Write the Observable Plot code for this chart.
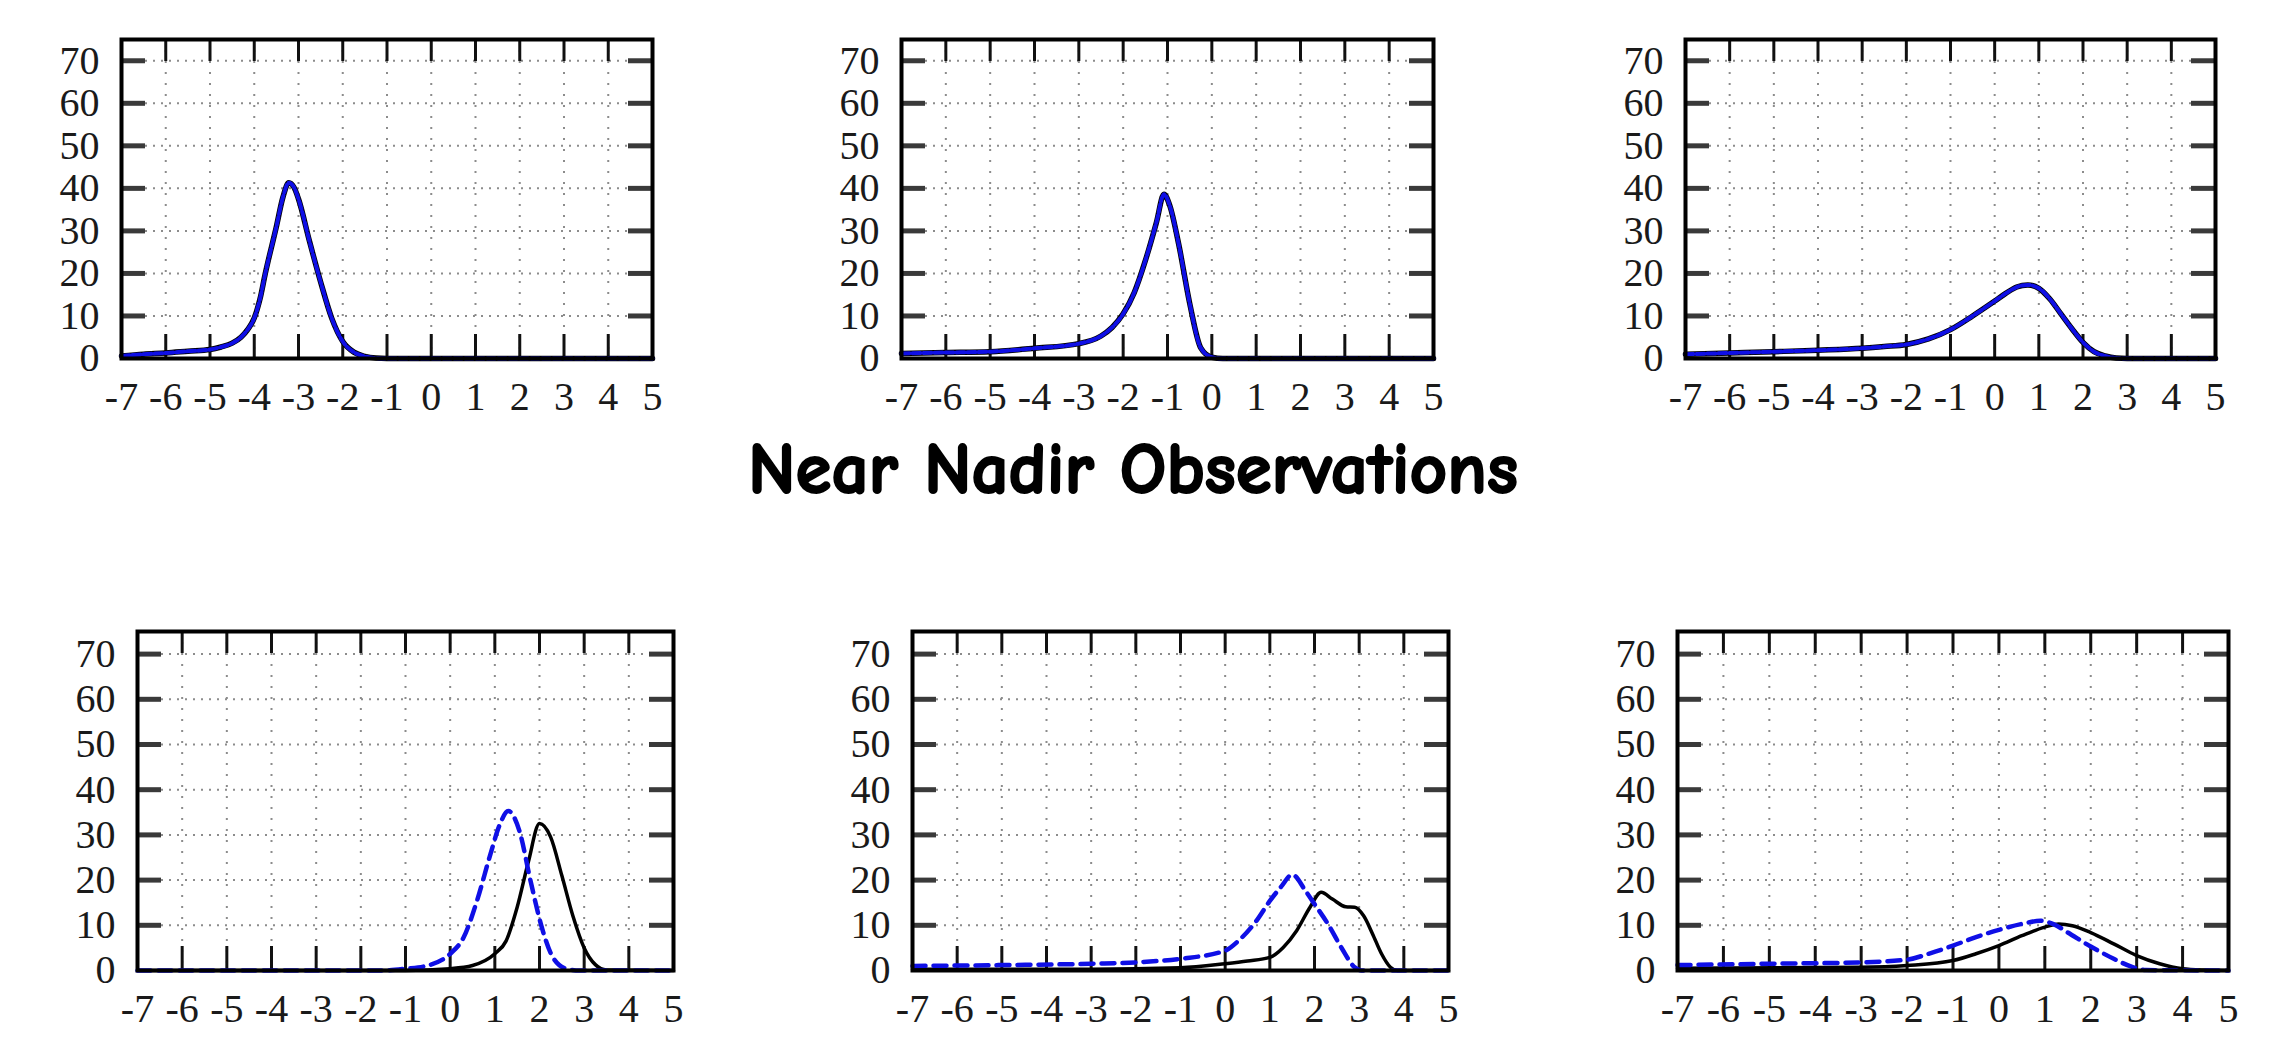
<!DOCTYPE html>
<html>
<head>
<meta charset="utf-8">
<script src="https://cdn.jsdelivr.net/npm/d3@7"></script>
<script src="https://cdn.jsdelivr.net/npm/@observablehq/plot@0.6"></script>
<style>
  html, body { margin: 0; padding: 0; background: #fff; }
  body { width: 2288px; height: 1044px; position: relative; overflow: hidden; }
  .panel { position: absolute; }
  #title {
    position: absolute; left: 1133px; top: 469px; transform: translate(-50%, -50%);
    font-family: "Comic Sans MS", "Comic Neue", "Open Sans", sans-serif; font-weight: 700;
    font-size: 73px; color: #000; white-space: nowrap;
    -webkit-text-stroke: 2px #000;
  }
</style>
</head>
<body>
<div id="title">Near Nadir Observations</div>
<script>
// ---------- tick values ----------
const xTickLabels = [-7, -6, -5, -4, -3, -2, -1, 0, 1, 2, 3, 4, 5];
const xInnerTicks = [-6, -5, -4, -3, -2, -1, 0, 1, 2, 3, 4];
const yTickLabels = [0, 10, 20, 30, 40, 50, 60, 70];
const yInnerTicks = [10, 20, 30, 40, 50, 60, 70];

// ---------- data ----------
// Top row: black solid and blue dashed curves coincide
const p1X = [-7, -6.5, -6, -5.5, -5, -4.75, -4.5, -4.3, -4.15, -4, -3.87, -3.75, -3.5, -3.35, -3.22, -3.1, -3, -2.75, -2.5, -2.25, -2, -1.75, -1.5, -1.25, -1, 0, 5];
const p1Y = [0.6, 1.0, 1.3, 1.7, 2.1, 2.7, 3.6, 5.0, 6.8, 9.5, 14, 20, 31, 38, 41.3, 40.2, 37.5, 27.5, 18, 9.5, 4, 1.5, 0.5, 0.1, 0, 0, 0];

const p2X = [-7, -6, -5, -4, -3, -2.5, -2.25, -2, -1.75, -1.5, -1.25, -1.08, -0.95, -0.75, -0.5, -0.25, 0, 0.25, 5];
const p2Y = [1.2, 1.4, 1.6, 2.4, 3.5, 5.3, 7.3, 10.5, 15.5, 23, 32, 38.6, 36, 27, 13, 2.5, 0.3, 0, 0];

const p3X = [-7, -6, -5, -4, -3, -2.5, -2, -1.5, -1, -0.5, 0, 0.25, 0.5, 0.75, 1, 1.25, 1.5, 1.75, 2, 2.25, 2.5, 2.75, 3, 5];
const p3Y = [1.0, 1.3, 1.6, 1.95, 2.4, 2.8, 3.3, 4.6, 6.8, 10, 13.5, 15.3, 16.8, 17.3, 16.5, 14, 10.5, 7, 3.8, 1.6, 0.6, 0.1, 0, 0];

// Bottom row: black solid and blue dashed differ
const p4SolidX = [-7, -1, 0, 0.5, 1, 1.25, 1.5, 1.75, 2, 2.25, 2.5, 2.75, 3, 3.25, 3.5, 5];
const p4SolidY = [0, 0, 0.4, 1.1, 3.7, 6.5, 14, 24, 32.5, 29.5, 21, 12, 5, 1.3, 0.1, 0];
const p4DashX = [-7, -1.5, -1, -0.5, 0, 0.3, 0.6, 0.9, 1.1, 1.3, 1.55, 1.8, 2.05, 2.3, 2.6, 2.9, 5];
const p4DashY = [0, 0, 0.4, 1.1, 3.7, 7.3, 15.4, 25.7, 32, 35.3, 30.9, 19.8, 9.6, 2.9, 0.4, 0, 0];

const p5SolidX = [-7, -3, -1, 0, 0.5, 1, 1.3, 1.6, 1.9, 2.15, 2.4, 2.7, 2.9, 3.1, 3.3, 3.5, 3.7, 3.85, 5];
const p5SolidY = [0.3, 0.3, 0.6, 1.5, 2.1, 2.9, 5.1, 8.8, 14, 17.3, 15.8, 14.1, 14, 12.1, 8.1, 3.7, 0.7, 0, 0];
const p5DashX = [-7, -5, -3, -2, -1, 0, 0.3, 0.7, 1, 1.25, 1.5, 1.8, 2, 2.3, 2.6, 2.9, 3.05, 5];
const p5DashY = [1.0, 1.2, 1.5, 1.8, 2.6, 4.4, 6.6, 11, 15.4, 18.5, 21.2, 17.6, 14.7, 10.3, 5.1, 0.7, 0, 0];

const p6SolidX = [-7, -3, -2, -1, -0.5, 0, 0.5, 1, 1.3, 1.6, 2, 2.5, 3, 3.5, 4, 4.5, 5];
const p6SolidY = [0.5, 0.7, 1.1, 2.2, 3.7, 5.5, 7.7, 9.6, 10.3, 9.9, 8.4, 5.9, 3.3, 1.5, 0.4, 0.1, 0];
const p6DashX = [-7, -5, -3, -2, -1.5, -1, -0.5, 0, 0.5, 0.9, 1.2, 1.5, 2, 2.5, 2.9, 3.2, 5];
const p6DashY = [1.2, 1.5, 1.8, 2.4, 3.8, 5.5, 7.4, 9.0, 10.3, 11, 10.2, 8.4, 5.3, 2.6, 0.8, 0.1, 0];

// ---------- layout (frame box of each panel, in page pixels) ----------
const panels = [
  {solid: [p1X, p1Y], dash: [p1X, p1Y], left: 121, right: 652, top: 39, bottom: 358, topRow: true},
  {solid: [p2X, p2Y], dash: [p2X, p2Y], left: 901, right: 1433, top: 39, bottom: 358, topRow: true},
  {solid: [p3X, p3Y], dash: [p3X, p3Y], left: 1685, right: 2215, top: 39, bottom: 358, topRow: true},
  {solid: [p4SolidX, p4SolidY], dash: [p4DashX, p4DashY], left: 137, right: 673, top: 631, bottom: 970},
  {solid: [p5SolidX, p5SolidY], dash: [p5DashX, p5DashY], left: 912, right: 1448, top: 631, bottom: 970},
  {solid: [p6SolidX, p6SolidY], dash: [p6DashX, p6DashY], left: 1677, right: 2228, top: 631, bottom: 970}
];

const mL = 90, mR = 30, mT = 12, mB = 70;

function makePanel(p) {
  const iw = p.right - p.left, ih = p.bottom - p.top;
  const solid = d3.zip(p.solid[0], p.solid[1]);
  const dash = d3.zip(p.dash[0], p.dash[1]);
  const chart = Plot.plot({
    width: iw + mL + mR,
    height: ih + mT + mB,
    marginLeft: mL, marginRight: mR, marginTop: mT, marginBottom: mB,
    x: {domain: [-7, 5]},
    y: {domain: [0, 75]},
    style: {fontFamily: "'Liberation Serif', 'Times New Roman', serif", fontSize: "40px", color: "#1a1a1a", background: "transparent", overflow: "visible"},
    marks: [
      Plot.gridX(xInnerTicks, {stroke: "#8c8c8c", strokeOpacity: 1, strokeWidth: 2, strokeDasharray: "2,9"}),
      Plot.gridY(yInnerTicks, {stroke: "#8c8c8c", strokeOpacity: 1, strokeWidth: 2, strokeDasharray: "2,6"}),
      Plot.ruleY(yInnerTicks, {insetRight: iw - 24, stroke: "#3a3a3a", strokeWidth: 5}),
      Plot.ruleY(yInnerTicks, {insetLeft: iw - 24, stroke: "#3a3a3a", strokeWidth: 5}),
      Plot.ruleX(xInnerTicks, {insetTop: ih - 24, stroke: "#111", strokeWidth: 3}),
      Plot.ruleX(xInnerTicks, {insetBottom: ih - 22, stroke: "#111", strokeWidth: 3}),
      Plot.line(solid, {x: d => d[0], y: d => d[1], curve: "monotone-x", stroke: "#000", strokeWidth: p.topRow ? 5.5 : 3.5}),
      Plot.line(dash, {x: d => d[0], y: d => d[1], curve: "monotone-x", stroke: "#0f0fe6", strokeWidth: p.topRow ? 4 : 4.5, strokeDasharray: p.topRow ? "8,3" : "13,8"}),
      Plot.frame({stroke: "#000", strokeWidth: 4}),
      Plot.axisX(xTickLabels, {tickSize: 0, tickPadding: 23, tickFormat: d => String(d), label: null, fontSize: 40}),
      Plot.axisY(yTickLabels, {tickSize: 0, tickPadding: 22, tickFormat: d => String(d), label: null, fontSize: 40})
    ]
  });
  const div = document.createElement("div");
  div.className = "panel";
  div.style.left = (p.left - mL) + "px";
  div.style.top = (p.top - mT) + "px";
  div.appendChild(chart);
  document.body.appendChild(div);
}

panels.forEach(makePanel);
</script>
</body>
</html>
